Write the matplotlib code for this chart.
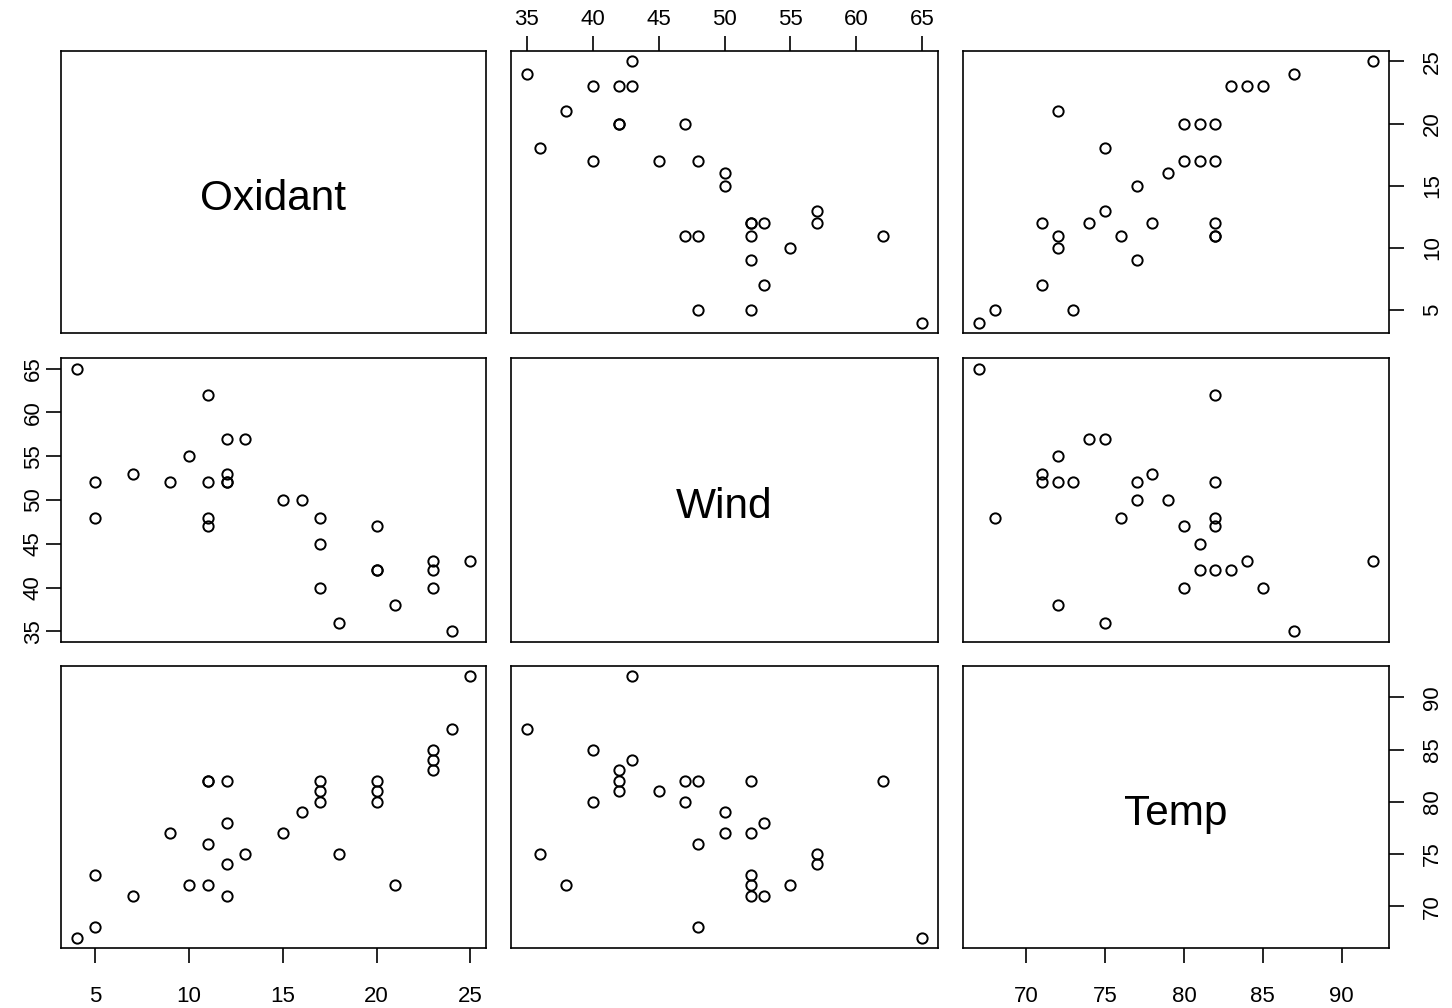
import matplotlib
matplotlib.use("Agg")
import matplotlib.pyplot as plt
from matplotlib.transforms import ScaledTranslation

plt.rcParams['font.family'] = ['Liberation Sans', 'DejaVu Sans']

oxidant = [4, 5, 25, 24, 23, 23, 23, 16, 15, 9, 12, 11, 12, 13, 18,
           5, 21, 10, 11, 7, 12, 20, 17, 20, 17, 20, 17, 12, 11, 11]
wind = [65, 48, 43, 35, 40, 43, 42, 50, 50, 52, 53, 48, 57, 57, 36,
        52, 38, 55, 52, 53, 52, 47, 40, 42, 45, 42, 48, 52, 62, 47]
temp = [67, 68, 92, 87, 85, 84, 83, 79, 77, 77, 78, 76, 74, 75, 75,
        73, 72, 72, 72, 71, 71, 80, 80, 81, 81, 82, 82, 82, 82, 82]

names = ["Oxidant", "Wind", "Temp"]
data = [oxidant, wind, temp]
ticks = [[5, 10, 15, 20, 25], [35, 40, 45, 50, 55, 60, 65], [70, 75, 80, 85, 90]]

W, H = 1452, 1008
fig = plt.figure(figsize=(W / 100, H / 100), dpi=100)

col_l = [61, 511, 963]
col_r = [486, 938, 1389]
row_t = [51, 358, 666]
row_b = [333, 642, 948]


def lim(v):
    lo, hi = min(v), max(v)
    d = (hi - lo) * 0.04
    return lo - d, hi + d


for i in range(3):
    for j in range(3):
        x0, x1 = col_l[j], col_r[j]
        y0, y1 = row_t[i], row_b[i]
        ax = fig.add_axes([x0 / W, 1 - y1 / H, (x1 - x0) / W, (y1 - y0) / H])
        for s in ax.spines.values():
            s.set_linewidth(1.2)
            s.set_color('black')
        ax.set_xlim(*lim(data[j]))
        ax.set_ylim(*lim(data[i]))
        ax.tick_params(bottom=False, top=False, left=False, right=False,
                       labelbottom=False, labeltop=False, labelleft=False, labelright=False,
                       length=11, width=1.2, labelsize=16)
        if i == j:
            tr = ax.transAxes + ScaledTranslation(0, -0.18, fig.dpi_scale_trans)
            ax.text(0.5, 0.5, names[i], transform=tr, ha='center', va='baseline',
                    fontsize=30.5)
        else:
            ax.plot(data[j], data[i], linestyle='none', marker='o', markersize=7.4,
                    markerfacecolor='none', markeredgecolor='black', markeredgewidth=1.4)
        ax.set_xticks(ticks[j])
        ax.set_yticks(ticks[i])
        if i == 0 and j % 2 == 1:
            ax.tick_params(axis='x', top=True, labeltop=True, pad=4)
        if i == 2 and j % 2 == 0:
            ax.tick_params(axis='x', bottom=True, labelbottom=True, pad=16)
        if j == 0 and i % 2 == 1:
            ax.tick_params(axis='y', left=True, labelleft=True, pad=1.5, labelrotation=90)
            for t in ax.get_yticklabels():
                t.set_va('center')
        if j == 2 and i % 2 == 0:
            ax.tick_params(axis='y', right=True, labelright=True, pad=13, labelrotation=90)
            for t in ax.get_yticklabels():
                t.set_va('center')

fig.savefig("out.png", dpi=100)
